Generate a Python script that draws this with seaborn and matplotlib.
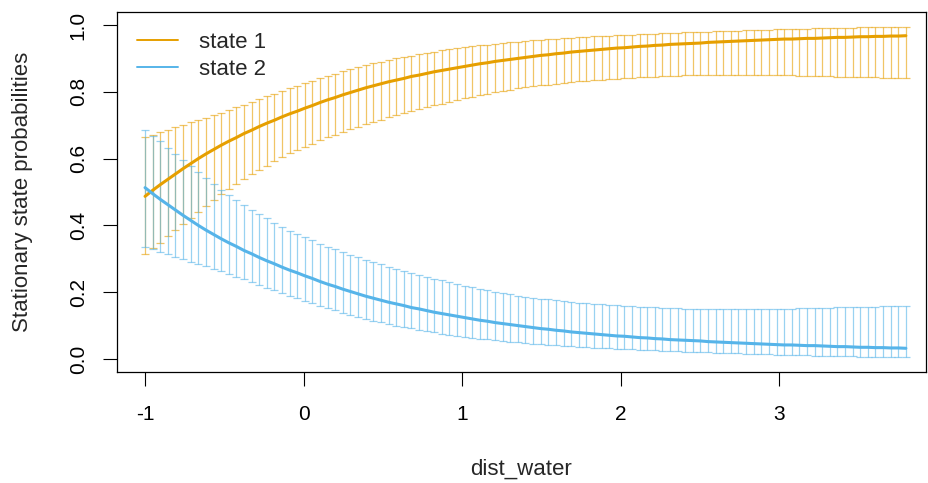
import numpy as np
import pandas as pd
import matplotlib
matplotlib.use("Agg")
import matplotlib.pyplot as plt
from matplotlib.lines import Line2D
import seaborn as sns

# covariate grid: 101 evenly spaced values of dist_water
x_min, x_max, n_points = -1.0, 3.8, 101
dist_water = np.linspace(x_min, x_max, n_points)

# state 1 stationary probability with 95% CI
state1_est = [
    0.487, 0.505, 0.522, 0.538, 0.554, 0.570, 0.585, 0.600, 0.614, 0.627, 0.640,
    0.652, 0.663, 0.675, 0.685, 0.696, 0.706, 0.715, 0.725, 0.734, 0.742,
    0.751, 0.759, 0.768, 0.776, 0.783, 0.791, 0.798, 0.805, 0.812, 0.818,
    0.824, 0.830, 0.835, 0.840, 0.846, 0.850, 0.855, 0.860, 0.864, 0.868,
    0.872, 0.876, 0.880, 0.884, 0.887, 0.891, 0.894, 0.897, 0.900, 0.903,
    0.906, 0.909, 0.911, 0.914, 0.916, 0.919, 0.921, 0.923, 0.925, 0.927,
    0.929, 0.931, 0.932, 0.934, 0.936, 0.937, 0.939, 0.940, 0.942, 0.943,
    0.944, 0.945, 0.946, 0.948, 0.949, 0.950, 0.951, 0.952, 0.953, 0.954,
    0.955, 0.956, 0.957, 0.958, 0.958, 0.959, 0.960, 0.960, 0.961, 0.962,
    0.963, 0.963, 0.964, 0.965, 0.965, 0.966, 0.966, 0.967, 0.967, 0.968,
]
state1_upper = [
    0.665, 0.672, 0.680, 0.687, 0.694, 0.702, 0.709, 0.716, 0.723, 0.731, 0.738,
    0.746, 0.754, 0.762, 0.770, 0.778, 0.786, 0.794, 0.802, 0.810, 0.818,
    0.826, 0.833, 0.841, 0.848, 0.854, 0.861, 0.867, 0.873, 0.879, 0.885,
    0.890, 0.895, 0.900, 0.904, 0.908, 0.913, 0.917, 0.920, 0.924, 0.927,
    0.930, 0.933, 0.936, 0.939, 0.941, 0.944, 0.946, 0.948, 0.950, 0.952,
    0.954, 0.956, 0.957, 0.959, 0.960, 0.962, 0.963, 0.964, 0.966, 0.967,
    0.968, 0.969, 0.970, 0.971, 0.972, 0.973, 0.974, 0.975, 0.976, 0.977,
    0.978, 0.979, 0.979, 0.980, 0.981, 0.982, 0.983, 0.983, 0.984, 0.985,
    0.986, 0.986, 0.987, 0.987, 0.988, 0.989, 0.989, 0.990, 0.990, 0.991,
    0.991, 0.992, 0.992, 0.993, 0.993, 0.993, 0.994, 0.994, 0.995, 0.995,
]
state1_lower = [
    0.314, 0.331, 0.348, 0.367, 0.385, 0.403, 0.421, 0.440, 0.458, 0.475, 0.493,
    0.509, 0.524, 0.539, 0.553, 0.566, 0.579, 0.592, 0.604, 0.616, 0.626,
    0.636, 0.645, 0.655, 0.664, 0.672, 0.680, 0.688, 0.696, 0.703, 0.710,
    0.717, 0.724, 0.730, 0.736, 0.742, 0.748, 0.754, 0.760, 0.765, 0.770,
    0.775, 0.780, 0.785, 0.789, 0.794, 0.798, 0.802, 0.806, 0.810, 0.813,
    0.816, 0.819, 0.821, 0.824, 0.826, 0.829, 0.831, 0.833, 0.834, 0.836,
    0.838, 0.839, 0.841, 0.842, 0.843, 0.844, 0.845, 0.846, 0.847, 0.848,
    0.849, 0.849, 0.850, 0.850, 0.851, 0.851, 0.851, 0.851, 0.851, 0.851,
    0.851, 0.850, 0.850, 0.849, 0.849, 0.848, 0.848, 0.847, 0.847, 0.846,
    0.845, 0.845, 0.844, 0.844, 0.843, 0.843, 0.842, 0.841, 0.841, 0.840,
]

# state 2 stationary probability with 95% CI
state2_est = [
    0.513, 0.495, 0.478, 0.462, 0.446, 0.430, 0.415, 0.400, 0.386, 0.373, 0.360,
    0.348, 0.337, 0.325, 0.315, 0.304, 0.294, 0.285, 0.275, 0.266, 0.258,
    0.249, 0.241, 0.232, 0.224, 0.217, 0.209, 0.202, 0.195, 0.188, 0.182,
    0.176, 0.170, 0.165, 0.160, 0.154, 0.150, 0.145, 0.140, 0.136, 0.132,
    0.128, 0.124, 0.120, 0.116, 0.113, 0.109, 0.106, 0.103, 0.100, 0.097,
    0.094, 0.091, 0.089, 0.086, 0.084, 0.081, 0.079, 0.077, 0.075, 0.073,
    0.071, 0.069, 0.068, 0.066, 0.064, 0.063, 0.061, 0.060, 0.058, 0.057,
    0.056, 0.055, 0.054, 0.052, 0.051, 0.050, 0.049, 0.048, 0.047, 0.046,
    0.045, 0.044, 0.043, 0.042, 0.042, 0.041, 0.040, 0.040, 0.039, 0.038,
    0.037, 0.037, 0.036, 0.035, 0.035, 0.034, 0.034, 0.033, 0.033, 0.032,
]
state2_upper = [
    0.686, 0.669, 0.652, 0.633, 0.615, 0.597, 0.579, 0.560, 0.542, 0.525, 0.507,
    0.491, 0.476, 0.461, 0.447, 0.434, 0.421, 0.408, 0.396, 0.384, 0.374,
    0.364, 0.355, 0.345, 0.336, 0.328, 0.320, 0.312, 0.304, 0.297, 0.290,
    0.283, 0.276, 0.270, 0.264, 0.258, 0.252, 0.246, 0.240, 0.235, 0.230,
    0.225, 0.220, 0.215, 0.211, 0.206, 0.202, 0.198, 0.194, 0.190, 0.187,
    0.184, 0.181, 0.179, 0.176, 0.174, 0.171, 0.169, 0.167, 0.166, 0.164,
    0.162, 0.161, 0.159, 0.158, 0.157, 0.156, 0.155, 0.154, 0.153, 0.152,
    0.151, 0.151, 0.150, 0.150, 0.149, 0.149, 0.149, 0.149, 0.149, 0.149,
    0.149, 0.150, 0.150, 0.151, 0.151, 0.152, 0.152, 0.153, 0.153, 0.154,
    0.155, 0.155, 0.156, 0.156, 0.157, 0.157, 0.158, 0.159, 0.159, 0.160,
]
state2_lower = [
    0.335, 0.328, 0.320, 0.313, 0.306, 0.298, 0.291, 0.284, 0.277, 0.269, 0.262,
    0.254, 0.246, 0.238, 0.230, 0.222, 0.214, 0.206, 0.198, 0.190, 0.182,
    0.174, 0.167, 0.159, 0.152, 0.146, 0.139, 0.133, 0.127, 0.121, 0.115,
    0.110, 0.105, 0.100, 0.096, 0.092, 0.087, 0.083, 0.080, 0.076, 0.073,
    0.070, 0.067, 0.064, 0.061, 0.059, 0.056, 0.054, 0.052, 0.050, 0.048,
    0.046, 0.044, 0.043, 0.041, 0.040, 0.038, 0.037, 0.036, 0.034, 0.033,
    0.032, 0.031, 0.030, 0.029, 0.028, 0.027, 0.026, 0.025, 0.024, 0.023,
    0.022, 0.021, 0.021, 0.020, 0.019, 0.018, 0.017, 0.017, 0.016, 0.015,
    0.014, 0.014, 0.013, 0.013, 0.012, 0.011, 0.011, 0.010, 0.010, 0.009,
    0.009, 0.008, 0.008, 0.007, 0.007, 0.007, 0.006, 0.006, 0.005, 0.005,
]

states = ["state 1", "state 2"]
colors = ["#E69F00", "#56B4E9"]
x_ticks = [-1, 0, 1, 2, 3]
y_ticks = [0.0, 0.2, 0.4, 0.6, 0.8, 1.0]

df = pd.concat([
    pd.DataFrame({"dist_water": dist_water, "prob": est, "lower": lo,
                  "upper": up, "state": st})
    for st, est, lo, up in zip(states,
                               [state1_est, state2_est],
                               [state1_lower, state2_lower],
                               [state1_upper, state2_upper])
], ignore_index=True)

sns.set_style("white")
plt.rcParams["font.family"] = ["Liberation Sans", "DejaVu Sans"]

fig = plt.figure(figsize=(9.29, 4.83), dpi=100)
ax = fig.add_axes([117 / 929, 1 - 372 / 483, (926 - 117) / 929, (372 - 12) / 483])

# confidence intervals as capped bars
for st, col in zip(states, colors):
    d = df[df["state"] == st]
    ax.errorbar(d["dist_water"], d["prob"],
                yerr=[d["prob"] - d["lower"], d["upper"] - d["prob"]],
                fmt="none", ecolor=col, alpha=0.6, elinewidth=0.9,
                capsize=3, capthick=0.9)

sns.lineplot(data=df, x="dist_water", y="prob", hue="state",
             palette=colors, linewidth=2.2, ax=ax, legend=False)

ax.set_xlim(-1.177, 3.927)
ax.set_ylim(-0.039, 1.039)
ax.set_xticks(x_ticks)
ax.set_xticklabels([str(t) for t in x_ticks])
ax.set_yticks(y_ticks)
ax.set_yticklabels([f"{t:.1f}" for t in y_ticks], rotation=90, va="center")
ax.tick_params(axis="both", direction="out", length=10, width=0.8,
               color="black", labelsize=15, labelcolor="black",
               bottom=True, left=True)
ax.tick_params(axis="x", pad=14)
ax.tick_params(axis="y", pad=11)

for sp in ax.spines.values():
    sp.set_visible(True)
    sp.set_color("black")
    sp.set_linewidth(0.9)

ax.set_xlabel("dist_water", fontsize=16)
ax.set_ylabel("Stationary state probabilities", fontsize=16)
ax.xaxis.label.set_va("center")
ax.yaxis.label.set_va("center")
ax.xaxis.set_label_coords(0.5, -0.27)
ax.yaxis.set_label_coords(-0.1174, 0.5)

handles = [Line2D([0], [0], color=c, lw=1.4) for c in colors]
ax.legend(handles, states, loc="upper left", bbox_to_anchor=(0.0, 1.0),
          frameon=False, fontsize=16, handlelength=1.85, handletextpad=0.95,
          labelspacing=0.25, borderaxespad=0.5)

fig.savefig("out.png", dpi=100)
